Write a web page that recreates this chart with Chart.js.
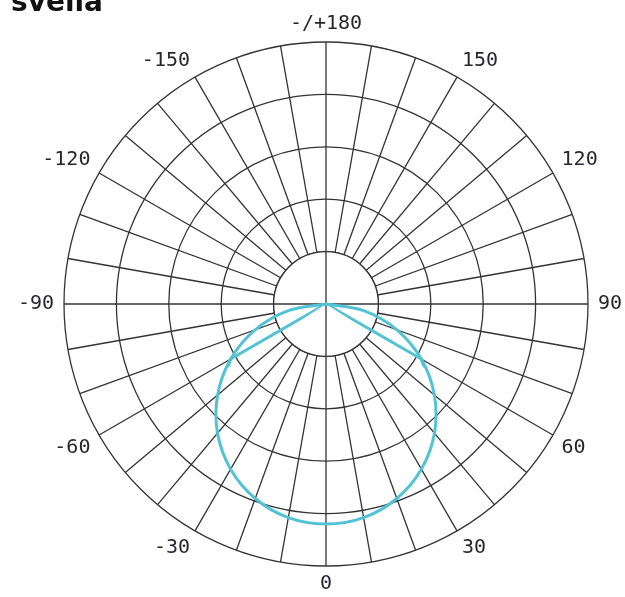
<!DOCTYPE html>
<html><head><meta charset="utf-8">
<script src="https://cdn.jsdelivr.net/npm/chart.js@4/dist/chart.umd.min.js"></script>
<style>
html,body{margin:0;padding:0;background:#fff;overflow:hidden}
#wrap{position:relative;width:625px;height:597px}
#brand{position:absolute;left:11px;top:-12px;font-family:"DejaVu Sans";font-weight:bold;font-size:28px;line-height:28px;color:#111;z-index:2}
canvas{position:absolute;left:0;top:0}
</style></head><body>
<div id="wrap"><div id="brand">svella</div><canvas id="c" width="625" height="597"></canvas></div>
<script>
// gamma angles (deg), clockwise from top
const angles = [180,170,160,150,140,130,120,110,100,90,80,70,60,50,40,30,20,10,0,
  -10,-20,-30,-40,-50,-60,-70,-80,-90,-100,-110,-120,-130,-140,-150,-160,-170];
// tick labels shown around the diagram
const tickAngles = [180,150,120,90,60,30,0,-30,-60,-90,-120,-150];
const tickTexts  = ['-/+180','150','120','90','60','30','0','-30','-60','-90','-120','-150'];
// intensity, plane C0-C180 (smooth)
const seriesC0 = [0,0,0,0,0,0,0,0,0,0,0.73,1.44,2.10,2.70,3.22,3.64,3.95,4.14,4.20,
  4.14,3.95,3.64,3.22,2.70,2.10,1.44,0.73,0,0,0,0,0,0,0,0,0];
// intensity, plane C90-C270
const seriesC90 = [0,0,0,0,0,0,0,0,0,0,0,0,2.10,2.70,3.22,3.64,3.95,4.14,4.20,
  4.14,3.95,3.64,3.22,2.70,2.10,0,0,0,0,0,0,0,0,0,0,0];
const ringMax = 5;

const gridColor = '#333333';
const curveColor = '#52c2d5';

const hubPlugin = {
  id: 'hub',
  beforeDatasetsDraw(chart) {
    const s = chart.scales.r, ctx = chart.ctx;
    const r1 = s.getDistanceFromCenterForValue(1);
    ctx.save();
    ctx.beginPath();
    ctx.arc(s.xCenter, s.yCenter, r1, 0, Math.PI * 2);
    ctx.fillStyle = '#fff';
    ctx.fill();
    ctx.strokeStyle = gridColor;
    ctx.lineWidth = 1.3;
    ctx.stroke();
    [0, 9, 18, 27].forEach(i => {
      const p = s.getPointPosition(i, r1);
      ctx.beginPath();
      ctx.moveTo(s.xCenter, s.yCenter);
      ctx.lineTo(p.x, p.y);
      ctx.stroke();
    });
    ctx.restore();
  }
};

// The C90 curve runs on top of the C0 curve between -60 and 60; only its own
// straight flanks are left visible so the two lines do not double up.
const c90Clip = {
  id: 'c90clip',
  beforeDatasetDraw(chart, args) {
    if (args.index !== 1) return;
    const s = chart.scales.r, ctx = chart.ctx;
    const iR = angles.indexOf(60) + 0.3, iL = angles.indexOf(-60) - 0.3;
    const far = s.drawingArea * 2;
    ctx.save();
    ctx.beginPath();
    ctx.rect(0, 0, chart.width, chart.height);
    ctx.moveTo(s.xCenter, s.yCenter);
    for (let k = iR; k < iL; k += 0.5) {
      const p = s.getPointPosition(k, far);
      ctx.lineTo(p.x, p.y);
    }
    const pe = s.getPointPosition(iL, far);
    ctx.lineTo(pe.x, pe.y);
    ctx.closePath();
    ctx.clip('evenodd');
  },
  afterDatasetDraw(chart, args) {
    if (args.index === 1) chart.ctx.restore();
  }
};

const labelPlugin = {
  id: 'angleLabels',
  afterDraw(chart) {
    const s = chart.scales.r, ctx = chart.ctx;
    ctx.save();
    ctx.font = '20px "DejaVu Sans Mono"';
    ctx.fillStyle = '#26262f';
    ctx.textBaseline = 'middle';
    const h = 16;
    tickAngles.forEach((a, k) => {
      const i = angles.indexOf(a);
      const deg = i * 360 / angles.length;
      const p = s.getPointPosition(i, s.drawingArea + 10);
      let y = p.y;
      if (deg === 0 || deg === 180) ctx.textAlign = 'center';
      else if (deg < 180) ctx.textAlign = 'left';
      else ctx.textAlign = 'right';
      if (deg === 90 || deg === 270) y = p.y;
      else if (deg < 90 || deg > 270) y = p.y - h / 2;
      else y = p.y + h / 2;
      ctx.fillText(tickTexts[k], p.x, y);
    });
    ctx.restore();
  }
};

new Chart(document.getElementById('c'), {
  type: 'radar',
  data: {
    labels: angles.map(String),
    datasets: [
      { label: 'C0-C180', data: seriesC0, borderColor: curveColor, borderWidth: 3, pointRadius: 0, fill: false, tension: 0.33 },
      { label: 'C90-C270', data: seriesC90, borderColor: curveColor, borderWidth: 3, pointRadius: 0, fill: false, tension: 0 }
    ]
  },
  options: {
    responsive: false,
    animation: false,
    devicePixelRatio: 1,
    layout: { padding: { left: 64, right: 37, top: 42, bottom: 31 } },
    plugins: { legend: { display: false }, tooltip: { enabled: false } },
    scales: {
      r: {
        min: 0, max: ringMax,
        startAngle: 0,
        ticks: { display: false, stepSize: 1 },
        grid: { color: gridColor, lineWidth: 1.3, circular: true },
        angleLines: { color: gridColor, lineWidth: 1.3 },
        pointLabels: { display: false }
      }
    }
  },
  plugins: [hubPlugin, c90Clip, labelPlugin]
});
</script>
</body></html>
